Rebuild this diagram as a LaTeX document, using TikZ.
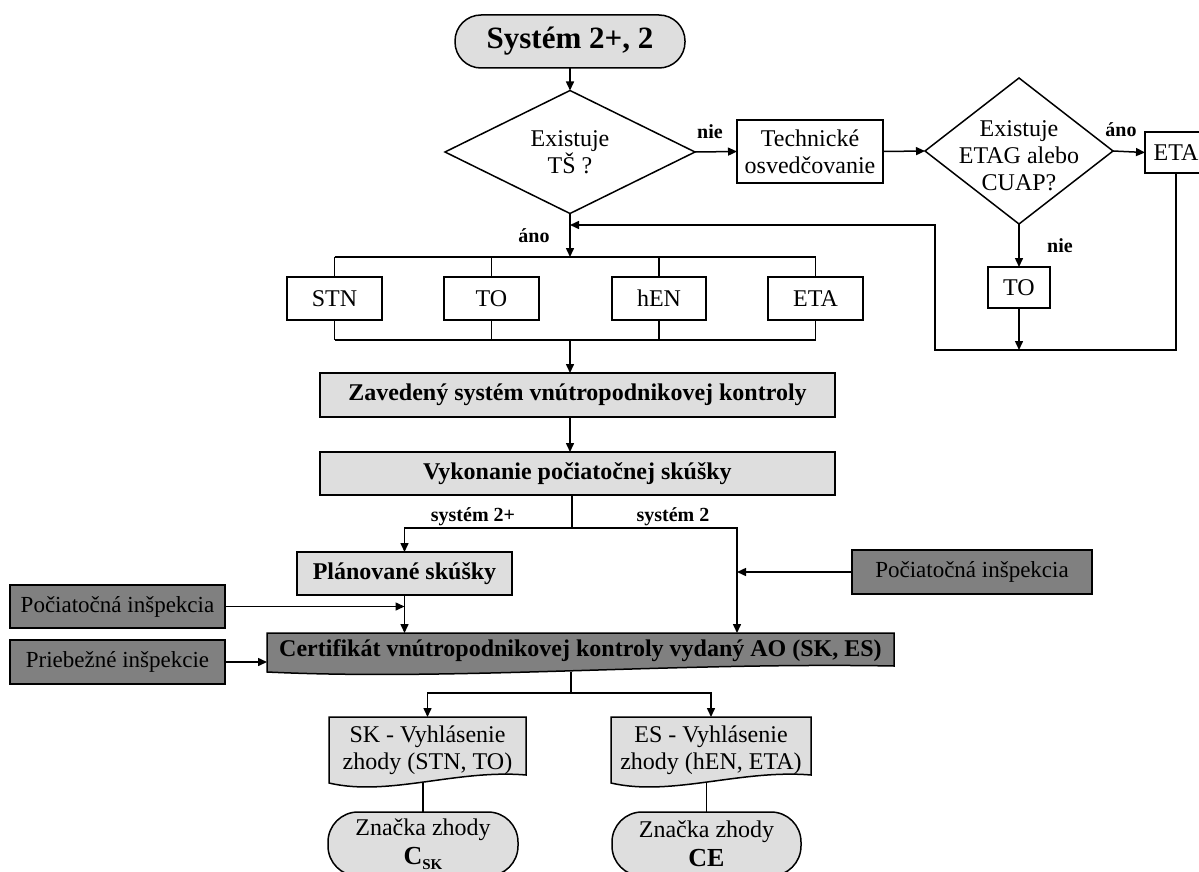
\documentclass[tikz,border=0pt]{standalone}
\usepackage{fontspec}
\setmainfont{Liberation Serif}
\usetikzlibrary{arrows.meta,calc,backgrounds}
\definecolor{lgrey}{HTML}{DEDEDE}
\definecolor{dgrey}{HTML}{808080}
\begin{document}
\begin{tikzpicture}[x=1pt,y=-1pt,
  line width=1.5pt,
  every node/.style={inner sep=0pt, outer sep=0pt, align=center},
  txt/.style={font=\fontsize{24}{27}\selectfont},
  btxt/.style={font=\fontsize{24}{27}\selectfont\bfseries},
  lab/.style={font=\fontsize{20}{22}\selectfont\bfseries},
  plainbox/.style={draw, rectangle, line width=1.5pt, txt},
  lbox/.style={draw, rectangle, line width=1.5pt, fill=lgrey, btxt},
  dbox/.style={draw, rectangle, line width=1.5pt, fill=dgrey, font=\fontsize{23}{26}\selectfont},
  term/.style={draw, line width=1.5pt, fill=lgrey, txt},
  docshape/.style={draw, line width=1.5pt},
  ln/.style={line width=1.5pt},
  arr/.style={line width=1.5pt, -{Triangle[length=9pt,width=8pt]}}
]
\useasboundingbox (0,0) rectangle (1199,872);
\clip (0,0) rectangle (1199,872);

% --- top part
\node[term, rounded corners=26pt, minimum width=230pt, minimum height=53pt,
      font=\fontsize{31}{34}\selectfont\bfseries] (start) at (570,41.5) {Systém 2+, 2};
\node[minimum width=250pt, minimum height=123pt, txt] (dia1) at (570,152) {Existuje\\TŠ ?};
\draw[ln] (dia1.north) -- (dia1.east) -- (dia1.south) -- (dia1.west) -- cycle;
\node[plainbox, minimum width=146pt, minimum height=63pt] (tech) at (810,151.5) {Technické\\osvedčovanie};
\node[minimum width=188pt, minimum height=146pt] (dia2) at (1019,151) {};
\node[txt] (dia2t) at (1019,156) {Existuje\\ETAG alebo\\CUAP?};
\draw[ln] (dia2.north) -- (dia2.east) -- (dia2.south) -- (dia2.west) -- cycle;
\node[plainbox, minimum width=62pt, minimum height=41pt] (eta1) at (1176,152.5) {ETA};
\node[plainbox, minimum width=62pt, minimum height=41pt] (to2) at (1019,287.5) {TO};

\draw[arr] (start.south) -- (dia1.north);
\draw[arr] (dia1.east) -- (tech.west);
\draw[arr] (tech.east) -- (dia2.west);
\draw[arr] (dia2.east) -- (eta1.west);
\draw[arr] (dia2.south) -- (to2.north);

\coordinate (loopL) at (935,350);
\coordinate (loopT) at (935,225);
\coordinate (join) at (570,225);
\draw[arr] (eta1.south) |- (loopL) -- (loopT) -- (join);
\draw[arr] (to2.south) -- (to2.south |- loopL);

\node[lab] (lnie1) at (710,132) {nie};
\node[lab] (lano2) at (1121,130) {áno};
\node[lab] (lnie2) at (1060,246) {nie};
\node[lab] (lano1) at (534,236) {áno};

% --- bus
\coordinate (bustop) at (570,257);
\coordinate (busbot) at (570,340);
\draw[arr] (dia1.south) -- (bustop);
\node[plainbox, minimum width=95pt, minimum height=43pt] (stn) at (334.5,298.5) {STN};
\node[plainbox, minimum width=95pt, minimum height=43pt] (to1) at (491.5,298.5) {TO};
\node[plainbox, minimum width=94pt, minimum height=43pt] (hen) at (659,298.5) {hEN};
\node[plainbox, minimum width=95pt, minimum height=43pt] (eta2) at (815.5,298.5) {ETA};
\draw[ln] (stn.north |- bustop) -- (eta2.north |- bustop);
\draw[ln] (stn.south |- busbot) -- (eta2.south |- busbot);
\foreach \n in {stn,to1,hen,eta2}{
  \draw[ln] (\n.north |- bustop) -- (\n.north);
  \draw[ln] (\n.south) -- (\n.south |- busbot);
}

\node[lbox, minimum width=515pt, minimum height=44pt] (zav) at (577.5,395) {Zavedený systém vnútropodnikovej kontroly};
\node[lbox, minimum width=515pt, minimum height=43pt] (vyk) at (577.5,473.5) {Vykonanie počiatočnej skúšky};
\draw[arr] (busbot) -- (busbot |- zav.north);
\draw[arr] (zav.south -| busbot) -- (vyk.north -| busbot);

% --- split
\coordinate (split) at (572,528);
\coordinate (s2) at (737,528);
\node[lbox, minimum width=215pt, minimum height=43pt] (plan) at (404.5,573.5) {Plánované skúšky};
\node[dbox, minimum width=215pt, minimum height=43pt] (pin1) at (117.5,606.5) {Počiatočná inšpekcia};
\node[dbox, minimum width=215pt, minimum height=44pt] (prieb) at (117.5,662) {Priebežné inšpekcie};
\node[dbox, minimum width=240pt, minimum height=44pt] (pin2) at (972,572) {Počiatočná inšpekcia};
\node[minimum width=627pt, minimum height=39pt] (cert) at (580.5,652.5) {};
\node[btxt] (certt) at (580.5,651) {Certifikát vnútropodnikovej kontroly vydaný AO (SK, ES)};
\begin{scope}[on background layer]
\draw[docshape, fill=dgrey] (cert.north west) -- (cert.north east) -- ($(cert.south east)+(0,-6)$)
  .. controls ($(cert.south west)!0.65!(cert.south east)+(0,-10)$) and ($(cert.south west)!0.3!(cert.south east)+(0,9)$) .. (cert.south west) -- cycle;
\end{scope}

\draw[ln] (vyk.south -| split) -- (split);
\draw[arr] (split) -| (plan.north);
\draw[arr] (split) -| (s2 |- cert.north);
\draw[arr] (plan.south) -- (plan.south |- cert.north);
\draw[arr] (pin1.east) -- (pin1.east -| plan.south);
\draw[arr] (prieb.east) -- (prieb.east -| cert.west);
\draw[arr] (pin2.west) -- (pin2.west -| s2);
\node[lab] (ls2p) at (473,517) {systém 2+};
\node[lab] (ls2) at (673,517) {systém 2};

% --- bottom
\coordinate (csplit) at (571,693);
\node[minimum width=197pt, minimum height=66pt, txt] (sk) at (427.5,750) {SK - Vyhlásenie\\zhody (STN, TO)};
\node[minimum width=200pt, minimum height=66pt, txt] (es) at (711,750) {ES - Vyhlásenie\\zhody (hEN, ETA)};
\begin{scope}[on background layer]
\foreach \n in {sk,es}{
\draw[docshape, fill=lgrey] (\n.north west) -- (\n.north east) -- ($(\n.south east)+(0,-8)$)
  .. controls ($(\n.south west)!0.65!(\n.south east)+(0,-14)$) and ($(\n.south west)!0.3!(\n.south east)+(0,14)$) .. (\n.south west) -- cycle;
}
\end{scope}
\draw[ln] (cert.south -| csplit) -- (csplit);
\draw[arr] (csplit) -| (sk.north);
\draw[arr] (csplit) -| (es.north);

\node[term, rounded corners=30pt, minimum width=190pt, minimum height=64pt] (tsk) at (423,844)
  {Značka zhody\\[2pt]{\bfseries\fontsize{26}{28}\selectfont C\raisebox{-5pt}{\fontsize{15}{15}\selectfont SK}}};
\node[term, rounded corners=30pt, minimum width=189pt, minimum height=64pt] (tes) at (706.5,844)
  {Značka zhody\\[2pt]{\bfseries\fontsize{26}{28}\selectfont CE}};
\draw[ln] (tsk.north) -- (tsk.north |- sk.south);
\draw[ln] (tes.north) -- (tes.north |- es.south);
\end{tikzpicture}
\end{document}
